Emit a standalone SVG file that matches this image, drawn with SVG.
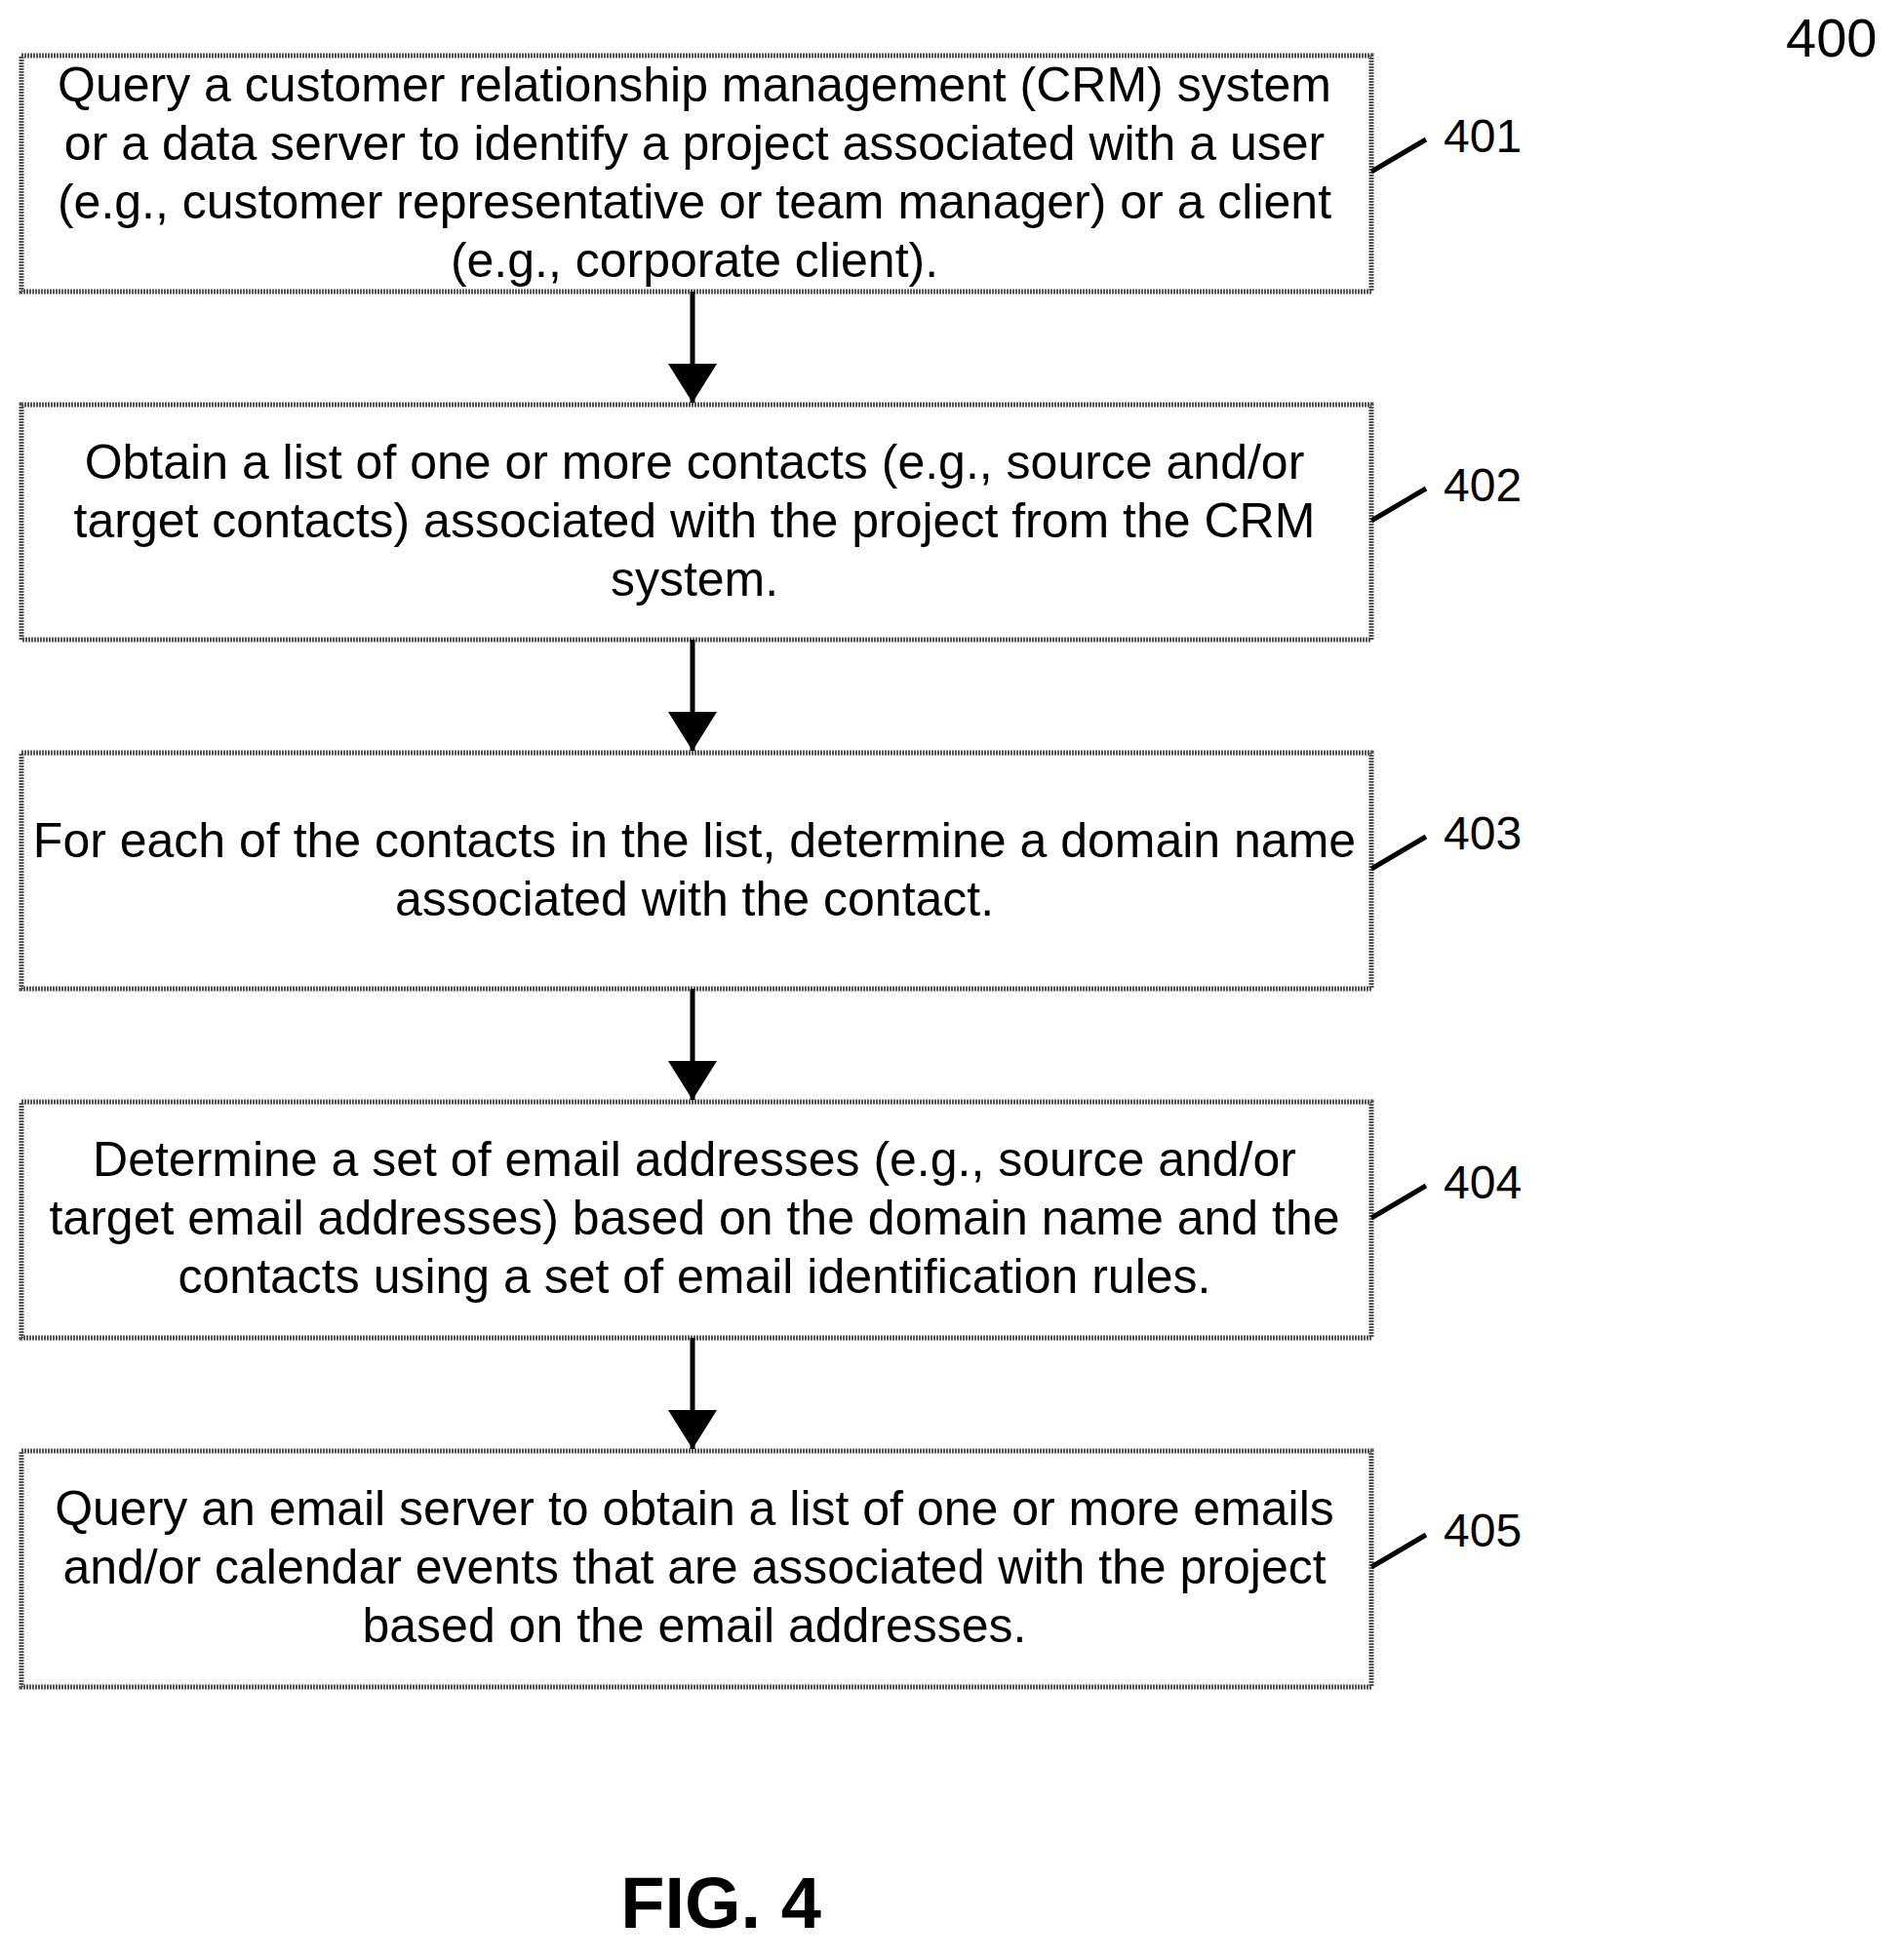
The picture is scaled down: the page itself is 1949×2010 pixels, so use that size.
<svg xmlns="http://www.w3.org/2000/svg" width="1949" height="2010" viewBox="0 0 1949 2010">
<style>
.box{fill:#fff;stroke:#555;stroke-width:5;stroke-dasharray:2 1}
.t{font-family:"Liberation Sans",Arial,sans-serif;font-size:50px;text-anchor:middle;fill:#000}
.l{font-family:"Liberation Sans",Arial,sans-serif;font-size:48px;fill:#000}
.c{stroke:#000;stroke-width:5;fill:none}
</style>
<defs><marker id="ah" markerWidth="8" markerHeight="10" refX="8" refY="5" orient="auto" markerUnits="strokeWidth"><path d="M0,0 L8,5 L0,10 Z" fill="#000"/></marker></defs>
<text class="l" x="1831" y="58" style="font-size:56px">400</text>
<g id="n401"><rect class="box" x="22" y="57" width="1384" height="242"/>
<text class="t" x="712" y="104">Query a customer relationship management (CRM) system</text>
<text class="t" x="712" y="164">or a data server to identify a project associated with a user</text>
<text class="t" x="712" y="224">(e.g., customer representative or team manager) or a client</text>
<text class="t" x="712" y="284">(e.g., corporate client).</text>
<text class="l" x="1480" y="156">401</text></g>
<g id="n402"><rect class="box" x="22" y="415" width="1384" height="241"/>
<text class="t" x="712" y="491">Obtain a list of one or more contacts (e.g., source and/or</text>
<text class="t" x="712" y="551">target contacts) associated with the project from the CRM</text>
<text class="t" x="712" y="611">system.</text>
<text class="l" x="1480" y="514">402</text></g>
<g id="n403"><rect class="box" x="22" y="772" width="1384" height="242"/>
<text class="t" x="712" y="879">For each of the contacts in the list, determine a domain name</text>
<text class="t" x="712" y="939">associated with the contact.</text>
<text class="l" x="1480" y="871">403</text></g>
<g id="n404"><rect class="box" x="22" y="1130" width="1384" height="242"/>
<text class="t" x="712" y="1206">Determine a set of email addresses (e.g., source and/or</text>
<text class="t" x="712" y="1266">target email addresses) based on the domain name and the</text>
<text class="t" x="712" y="1326">contacts using a set of email identification rules.</text>
<text class="l" x="1480" y="1229">404</text></g>
<g id="n405"><rect class="box" x="22" y="1488" width="1384" height="242"/>
<text class="t" x="712" y="1564">Query an email server to obtain a list of one or more emails</text>
<text class="t" x="712" y="1624">and/or calendar events that are associated with the project</text>
<text class="t" x="712" y="1684">based on the email addresses.</text>
<text class="l" x="1480" y="1586">405</text></g>
<g id="connectors">
<line class="c" x1="710" y1="299" x2="710" y2="413" marker-end="url(#ah)"/>
<line class="c" x1="710" y1="656" x2="710" y2="770" marker-end="url(#ah)"/>
<line class="c" x1="710" y1="1014" x2="710" y2="1128" marker-end="url(#ah)"/>
<line class="c" x1="710" y1="1372" x2="710" y2="1486" marker-end="url(#ah)"/>
<line class="c" x1="1406" y1="176" x2="1462" y2="143"/>
<line class="c" x1="1406" y1="534" x2="1462" y2="501"/>
<line class="c" x1="1406" y1="891" x2="1462" y2="858"/>
<line class="c" x1="1406" y1="1249" x2="1462" y2="1216"/>
<line class="c" x1="1406" y1="1607" x2="1462" y2="1574"/>
</g>
<text x="739" y="1977" style="font-family:'Liberation Sans',Arial,sans-serif;font-size:74px;font-weight:bold;text-anchor:middle">FIG. 4</text>
</svg>
